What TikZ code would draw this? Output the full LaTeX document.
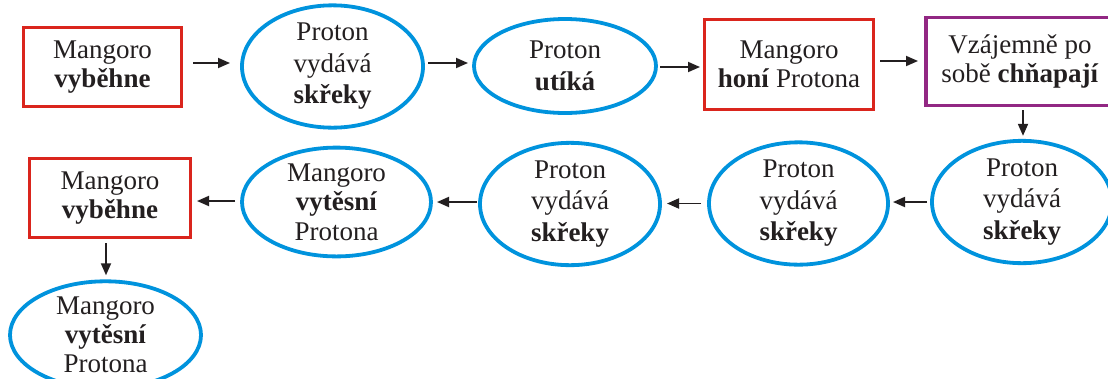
\documentclass[tikz,border=0pt]{standalone}
\usepackage{fontspec}
\setmainfont{Liberation Serif}[BoldFont={Liberation Serif Bold}]
\usetikzlibrary{shapes.geometric,arrows.meta}
\definecolor{boxred}{RGB}{218,37,29}
\definecolor{ellblue}{RGB}{0,147,221}
\definecolor{boxpurple}{RGB}{146,39,131}
\definecolor{txt}{RGB}{35,31,32}
\tikzset{
  lbl/.style={font=\fontsize{27}{29}\selectfont, text=txt, align=center, inner sep=0pt, outer sep=0pt},
  redbox/.style={lbl, rectangle, draw=boxred, line width=3pt},
  purplebox/.style={lbl, rectangle, draw=boxpurple, line width=3.5pt},
  oval/.style={lbl, font=\fontsize{27}{31.5}\selectfont, ellipse, draw=ellblue, line width=3.8pt},
  arr/.style={draw=txt, line width=1.8pt, -{Triangle[length=12pt,width=10pt]}}
}
\begin{document}
\begin{tikzpicture}[x=1pt,y=-1pt]
\useasboundingbox (0,0) rectangle (1108,378);
\clip (0,0) rectangle (1108,378);
\fill[white] (0,0) rectangle (1108,378);
% top row
\node[redbox, minimum width=158pt, minimum height=79pt] (b1) at (102.5,67) {Mangoro\\\textbf{vyběhne}};
\node[oval, minimum width=181pt, minimum height=99pt] (e1) at (332.5,66.5) {Proton\\vydává\\\textbf{skřeky}};
\node[oval, minimum width=182pt, minimum height=94pt] (e2) at (565,66) {Proton\\\textbf{utíká}};
\node[redbox, minimum width=169pt, minimum height=90pt] (b2) at (789,64.5) {Mangoro\\\textbf{honí} Protona};
\node[purplebox, minimum width=188pt, minimum height=88pt] (b3) at (1020,61.5) {Vzájemně po\\sobě \textbf{chňapají}};
% second row
\node[oval, minimum width=180pt, minimum height=100pt] (r1) at (1022,202) {Proton\\vydává\\\textbf{skřeky}};
\node[oval, minimum width=179pt, minimum height=99pt] (r2) at (798.5,203.5) {Proton\\vydává\\\textbf{skřeky}};
\node[oval, minimum width=180pt, minimum height=100pt] (r3) at (570,204) {Proton\\vydává\\\textbf{skřeky}};
\node[oval, font=\fontsize{27}{29.5}\selectfont, minimum width=189pt, minimum height=94pt] (r4) at (336.5,202) {Mangoro\\\textbf{vytěsní}\\Protona};
\node[redbox, minimum width=161pt, minimum height=79pt] (b4) at (110,198) {Mangoro\\\textbf{vyběhne}};
% bottom
\node[oval, font=\fontsize{27}{29}\selectfont, minimum width=191pt, minimum height=96pt] (b5) at (105.5,335) {Mangoro\\\textbf{vytěsní}\\Protona};
% connectors
\draw[arr, shorten <=11.5pt, shorten >=12pt] ([yshift=4pt]b1.east) -- ([yshift=4pt]b1.east -| e1.west);
\draw[arr, shorten <=5pt, shorten >=6pt] ([yshift=3.5pt]e1.east) -- ([yshift=3.5pt]e1.east -| e2.west);
\draw[arr, shorten <=4pt, shorten >=4.5pt] ([yshift=-1pt]e2.east) -- ([yshift=-1pt]e2.east -| b2.west);
\draw[arr, shorten <=6.5pt, shorten >=8pt] ([yshift=3.5pt]b2.east) -- ([yshift=3.5pt]b2.east -| b3.west);
\draw[arr, shorten <=4.5pt, shorten >=5pt] ([xshift=3pt]b3.south) -- ([xshift=3pt]b3.south |- r1.north);
\draw[arr, shorten <=5pt, shorten >=5pt] (r1.west) -- (r1.west -| r2.east);
\draw[arr, shorten <=8pt, shorten >=7pt] (r2.west) -- (r2.west -| r3.east);
\draw[arr, shorten <=3pt, shorten >=6pt] ([yshift=2pt]r3.west) -- ([yshift=2pt]r3.west -| r4.east);
\draw[arr, shorten <=7pt, shorten >=6.5pt] ([yshift=1pt]r4.west) -- ([yshift=1pt]r4.west -| b4.east);
\draw[arr, shorten <=5.5pt, shorten >=6pt] ([xshift=-4pt]b4.south) -- ([xshift=-4pt]b4.south |- b5.north);
\end{tikzpicture}
\end{document}
